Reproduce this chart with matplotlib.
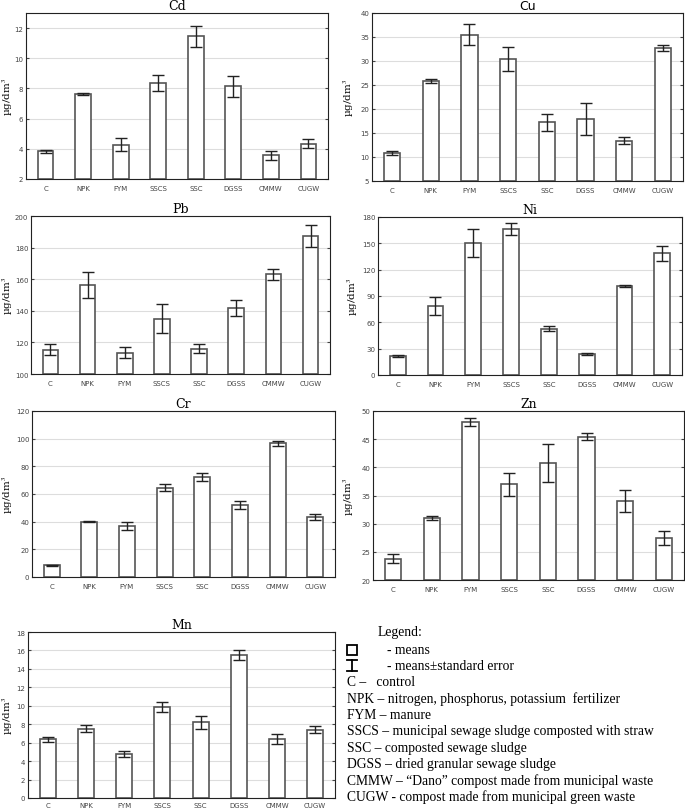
import matplotlib
matplotlib.use('Agg')
import matplotlib.pyplot as plt
from matplotlib.patches import Rectangle
from matplotlib.lines import Line2D
import numpy as np

groups = ['C', 'NPK', 'FYM', 'SSCS', 'SSC', 'DGSS', 'CMMW', 'CUGW']

cd_mean = [3.84, 7.64, 4.28, 8.39, 11.45, 8.13, 3.57, 4.35]
cd_err = [0.1, 0.08, 0.42, 0.53, 0.71, 0.71, 0.3, 0.31]
cu_mean = [10.75, 25.8, 35.5, 30.5, 17.2, 17.96, 13.4, 32.65]
cu_err = [0.42, 0.38, 2.15, 2.5, 1.75, 3.36, 0.73, 0.66]
pb_mean = [115.4, 156.2, 113.5, 134.9, 116.1, 141.9, 163.0, 187.1]
pb_err = [3.6, 8.2, 3.5, 9.2, 2.7, 4.9, 3.2, 7.0]
ni_mean = [22.0, 78.8, 150.0, 166.0, 52.9, 24.4, 101.2, 138.5]
ni_err = [1.0, 10.5, 16.0, 6.8, 3.2, 1.1, 1.0, 8.6]
cr_mean = [8.4, 40.0, 36.9, 64.6, 72.3, 52.3, 96.6, 43.6]
cr_err = [0.2, 0.5, 2.8, 2.65, 2.9, 2.8, 2.0, 2.3]
zn_mean = [23.8, 31.0, 48.1, 37.0, 40.8, 45.4, 34.0, 27.46]
zn_err = [0.74, 0.41, 0.71, 2.04, 3.34, 0.62, 2.0, 1.18]
mn_mean = [6.39, 7.53, 4.79, 9.87, 8.2, 15.5, 6.39, 7.42]
mn_err = [0.27, 0.34, 0.34, 0.57, 0.67, 0.51, 0.53, 0.34]

legend_lines = [
    'C \u2013   control',
    'NPK \u2013 nitrogen, phosphorus, potassium  fertilizer',
    'FYM \u2013 manure',
    'SSCS \u2013 municipal sewage sludge composted with straw',
    'SSC \u2013 composted sewage sludge',
    'DGSS \u2013 dried granular sewage sludge',
    'CMMW \u2013 \u201cDano\u201d compost made from municipal waste',
    'CUGW - compost made from municipal green waste',
]

W, H = 685, 812
plt.rcParams['mathtext.fontset'] = 'stix'
fig = plt.figure(figsize=(W / 100, H / 100), dpi=100)


def px_rect(x0, y0, x1, y1):
    return [x0 / W, 1 - y1 / H, (x1 - x0) / W, (y1 - y0) / H]


# name, means, errors, ylim, yticks, axes box (px), title family, ylabel x (px)
panels = [
    ('Cd', cd_mean, cd_err, (2, 13), np.arange(2, 13, 2), (26, 14, 328, 180), 'serif', 8),
    ('Cu', cu_mean, cu_err, (5, 40), np.arange(5, 41, 5), (372, 14, 683, 182), 'sans-serif', 349),
    ('Pb', pb_mean, pb_err, (100, 200), np.arange(100, 201, 20), (31, 217, 330, 375), 'serif', 8),
    ('Ni', ni_mean, ni_err, (0, 180), np.arange(0, 181, 30), (378, 218, 682, 376), 'serif', 353),
    ('Cr', cr_mean, cr_err, (0, 120), np.arange(0, 121, 20), (32, 412, 335, 578), 'serif', 8),
    ('Zn', zn_mean, zn_err, (20, 50), np.arange(20, 51, 5), (373, 412, 684, 581), 'serif', 349),
    ('Mn', mn_mean, mn_err, (0, 18), np.arange(0, 19, 2), (28, 633, 335, 799), 'serif', 8),
]

x = np.arange(len(groups))
for name, mean, err, ylim, yticks, box, tfam, lab_x in panels:
    ax = fig.add_axes(px_rect(*box))
    ax.set_axisbelow(True)
    ax.yaxis.grid(True, color='#dddddd', lw=0.8)
    ax.bar(x, np.array(mean) - ylim[0], bottom=ylim[0], width=0.42,
           color='white', edgecolor='#555555', linewidth=1.2)
    ax.errorbar(x, mean, yerr=err, fmt='none', ecolor='#222222',
                elinewidth=1.0, capsize=4, capthick=1.0)
    ax.set_xlim(-0.52, 7.52)
    ax.set_ylim(*ylim)
    ax.set_yticks(yticks)
    ax.set_xticks(x)
    ax.set_xticklabels(groups)
    ax.tick_params(labelsize=5, colors='#444444', length=2, direction='in',
                   top=True, right=True, pad=2)
    ax.tick_params(axis='x', length=0, pad=4 if name != 'Mn' else 3)
    for s in ax.spines.values():
        s.set_color('#222222')
        s.set_linewidth(0.8)
    ax.set_title(name, fontsize=9, family=tfam, pad=3)
    mid = (box[1] + box[3]) / 2
    fig.text(lab_x / W, 1 - mid / H, '\u00b5g/dm$^3$', fontsize=7.5, family='serif',
             rotation=90, ha='center', va='center')

# legend block
lx = 347
fs = 9.8
fig.text(378 / W, 1 - 633 / H, 'Legend:', fontsize=fs, family='Liberation Serif', va='center')
fig.patches.append(Rectangle((lx / W, 1 - 656 / H), 10 / W, 10 / H, transform=fig.transFigure,
                             fill=False, edgecolor='black', lw=1.3))
fig.text(387 / W, 1 - 651 / H, '- means', fontsize=fs, family='Liberation Serif', va='center')
yc = 667
fig.lines.append(Line2D([(lx + 5) / W, (lx + 5) / W], [1 - (yc - 6) / H, 1 - (yc + 5) / H],
                        transform=fig.transFigure, color='black', lw=1.3))
fig.lines.append(Line2D([lx / W, (lx + 10) / W], [1 - (yc - 6) / H, 1 - (yc - 6) / H],
                        transform=fig.transFigure, color='black', lw=1.3))
fig.lines.append(Line2D([lx / W, (lx + 10) / W], [1 - (yc + 5) / H, 1 - (yc + 5) / H],
                        transform=fig.transFigure, color='black', lw=1.3))
fig.text(387 / W, 1 - 667 / H, '- means\u00b1standard error', fontsize=fs,
         family='Liberation Serif', va='center')
for i, line in enumerate(legend_lines):
    fig.text(lx / W, 1 - (683 + i * 16.3) / H, line, fontsize=fs,
             family='Liberation Serif', va='center')

fig.savefig('out.png', dpi=100)
